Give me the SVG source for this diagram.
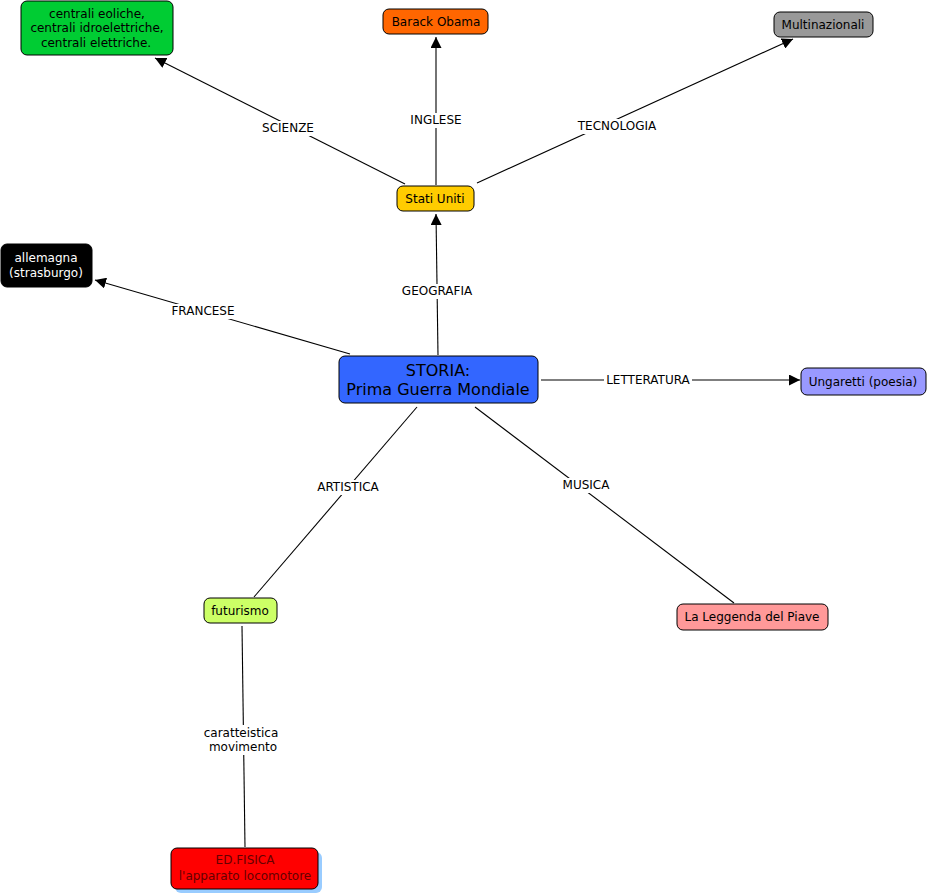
<svg xmlns="http://www.w3.org/2000/svg" width="929" height="896" viewBox="0 0 929 896">
<style>
text{font-family:"DejaVu Sans","Liberation Sans",sans-serif;font-size:12px;fill:#000;text-anchor:middle}
.node{stroke:#000;stroke-width:1}
.ln{stroke:#000;stroke-width:1.1;fill:none}
.lb{fill:#fff}
.big{font-size:16px}
</style>
<defs>
<marker id="arr" viewBox="0 0 10 10" refX="10" refY="5" markerWidth="11" markerHeight="11" markerUnits="userSpaceOnUse" orient="auto">
<path d="M0,0 L10,5 L0,10 z" fill="#000"/>
</marker>
</defs>
<rect width="929" height="896" fill="#fff"/>
<g id="connectors">
<line class="ln" x1="405" y1="184" x2="155" y2="58" marker-end="url(#arr)"/>
<line class="ln" x1="436" y1="185" x2="436" y2="37" marker-end="url(#arr)"/>
<line class="ln" x1="477" y1="183" x2="793" y2="39" marker-end="url(#arr)"/>
<line class="ln" x1="438" y1="355" x2="436" y2="214" marker-end="url(#arr)"/>
<line class="ln" x1="350" y1="354" x2="95" y2="280" marker-end="url(#arr)"/>
<line class="ln" x1="541" y1="380" x2="800" y2="380" marker-end="url(#arr)"/>
<line class="ln" x1="417" y1="407" x2="254" y2="597"/>
<line class="ln" x1="475" y1="407" x2="734" y2="603"/>
<line class="ln" x1="242" y1="626" x2="245" y2="847"/>
<rect class="lb" x="259" y="121" width="58" height="15"/>
<text x="288" y="132">SCIENZE</text>
<rect class="lb" x="407" y="113" width="58" height="15"/>
<text x="436" y="124">INGLESE</text>
<rect class="lb" x="576" y="119" width="82" height="15"/>
<text x="617" y="130">TECNOLOGIA</text>
<rect class="lb" x="399" y="284" width="76" height="15"/>
<text x="437" y="295">GEOGRAFIA</text>
<rect class="lb" x="169" y="304" width="68" height="15"/>
<text x="203" y="315">FRANCESE</text>
<rect class="lb" x="604" y="373" width="88" height="15"/>
<text x="648" y="384">LETTERATURA</text>
<rect class="lb" x="313" y="480" width="70" height="15"/>
<text x="348" y="491">ARTISTICA</text>
<rect class="lb" x="560" y="478" width="52" height="15"/>
<text x="586" y="489">MUSICA</text>
<rect class="lb" x="201" y="725" width="80" height="30"/>
<text x="241" y="737">caratteistica</text>
<text x="243" y="751">movimento</text>
</g>
<g id="n-centrali">
<rect class="node" x="21" y="1" width="152" height="54" rx="6" fill="#00CC33"/>
<text x="97" y="18">centrali eoliche,</text>
<text x="97" y="32">centrali idroelettriche,</text>
<text x="96" y="47">centrali elettriche.</text>
</g>
<g id="n-obama">
<rect class="node" x="383" y="9" width="105" height="25" rx="6" fill="#FF6600"/>
<text x="436" y="26">Barack Obama</text>
</g>
<g id="n-multi">
<rect class="node" x="774" y="12" width="99" height="25" rx="6" fill="#999999"/>
<text x="823" y="29">Multinazionali</text>
</g>
<g id="n-stati">
<rect class="node" x="397" y="186" width="77" height="25" rx="6" fill="#FFCC00"/>
<text x="435" y="203">Stati Uniti</text>
</g>
<g id="n-allemagna">
<rect class="node" x="1" y="244" width="91" height="43" rx="6" fill="#000"/>
<text x="46" y="262" fill="#fff" style="fill:#fff">allemagna</text>
<text x="46" y="277" style="fill:#fff">(strasburgo)</text>
</g>
<g id="n-storia">
<rect class="node" x="339" y="356" width="199" height="47" rx="6" fill="#3366FF"/>
<text class="big" x="438" y="376">STORIA:</text>
<text class="big" x="438" y="395">Prima Guerra Mondiale</text>
</g>
<g id="n-ungaretti">
<rect class="node" x="801" y="368" width="125" height="27" rx="6" fill="#9999FF"/>
<text x="863" y="386">Ungaretti (poesia)</text>
</g>
<g id="n-futurismo">
<rect class="node" x="204" y="598" width="73" height="25" rx="6" fill="#CCFF66"/>
<text x="240" y="615">futurismo</text>
</g>
<g id="n-piave">
<rect class="node" x="677" y="604" width="151" height="26" rx="6" fill="#FF9999"/>
<text x="752" y="621">La Leggenda del Piave</text>
</g>
<g id="n-edfisica">
<rect x="175" y="852" width="147" height="41" rx="6" fill="#99CCFF"/>
<rect class="node" x="171" y="848" width="147" height="41" rx="6" fill="#FF0000"/>
<text x="245" y="864" style="fill:#660000">ED.FISICA</text>
<text x="245" y="880" style="fill:#660000">l'apparato locomotore</text>
</g>
</svg>
